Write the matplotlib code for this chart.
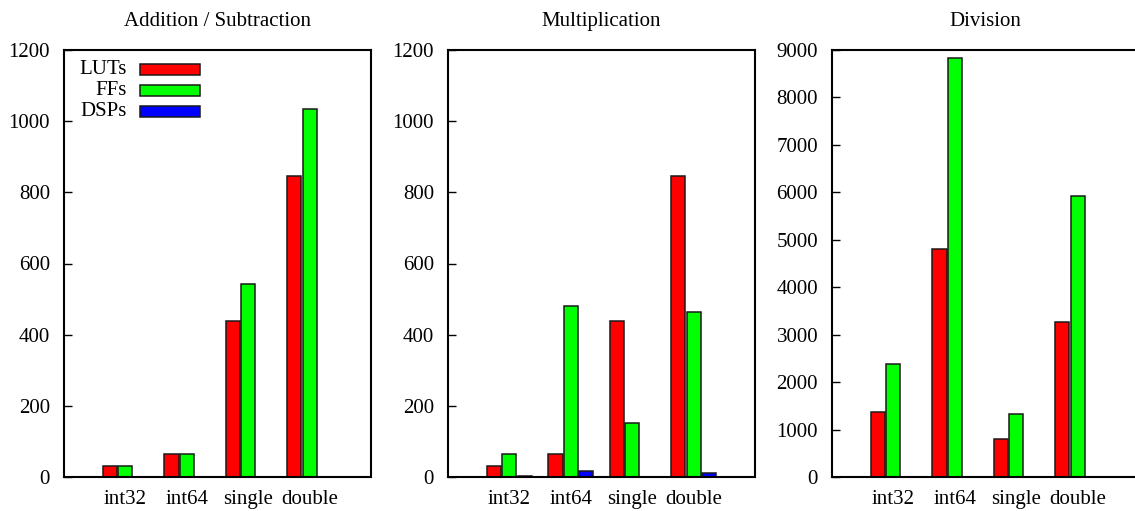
import numpy as np
import matplotlib
matplotlib.use("Agg")
import matplotlib.pyplot as plt
from matplotlib.patches import Rectangle

plt.rcParams['font.family'] = ['Liberation Serif', 'DejaVu Serif']

categories = ["int32", "int64", "single", "double"]
series = ["LUTs", "FFs", "DSPs"]
colors = ["#ff0000", "#00ff00", "#0000ff"]

titles = ["Addition / Subtraction", "Multiplication", "Division"]

add_luts = [32, 64, 438, 845]
add_ffs = [32, 64, 542, 1034]
add_dsps = [0, 0, 0, 0]

mul_luts = [32, 64, 438, 845]
mul_ffs = [66, 480, 151, 463]
mul_dsps = [4, 16, 1, 10]

div_luts = [1360, 4815, 805, 3265]
div_ffs = [2380, 8830, 1330, 5920]
div_dsps = [0, 0, 0, 0]

panels = [
    (add_luts, add_ffs, add_dsps),
    (mul_luts, mul_ffs, mul_dsps),
    (div_luts, div_ffs, div_dsps),
]
y_limits = [1200, 1200, 9000]
y_steps = [200, 200, 1000]

W, H = 1135, 511
fig = plt.figure(figsize=(W / 100, H / 100), dpi=100)

ax_left = [64, 448, 832]
ax_w = 307
ax_top, ax_bottom = 50, 477

x = np.arange(len(categories))
offsets = [-0.25, 0.0, 0.25]
bar_w = 0.23

for i, (data, title, ymax, step) in enumerate(zip(panels, titles, y_limits, y_steps)):
    ax = fig.add_axes([ax_left[i] / W, (H - ax_bottom) / H,
                       ax_w / W, (ax_bottom - ax_top) / H])
    for vals, off, col in zip(data, offsets, colors):
        ax.bar(x + off, vals, width=bar_w, color=col, edgecolor="#1a1a1a",
               linewidth=1.1, zorder=2)
    ax.set_xlim(-1, 4)
    ax.set_ylim(0, ymax)
    ax.set_yticks(np.arange(0, ymax + 1, step))
    ax.set_xticks(x)
    ax.set_xticklabels(categories)
    ax.tick_params(axis="x", length=0, pad=9, labelsize=15)
    ax.tick_params(axis="y", direction="in", length=6, width=1.0, pad=10,
                   labelsize=15, right=False)
    for sp in ax.spines.values():
        sp.set_linewidth(1.5)
        sp.set_zorder(3)
    ax.set_title(title, fontsize=15, pad=17)

    if i == 0:
        rows_y = [0.955, 0.906, 0.857]
        for name, col, yy in zip(series, colors, rows_y):
            ax.text(0.205, yy, name, transform=ax.transAxes, ha="right",
                    va="center", fontsize=15)
            ax.add_patch(Rectangle((0.248, yy - 0.013), 0.195, 0.026,
                                   transform=ax.transAxes, facecolor=col,
                                   edgecolor="#1a1a1a", linewidth=1.1,
                                   zorder=4))

fig.savefig("out.png", dpi=100)
